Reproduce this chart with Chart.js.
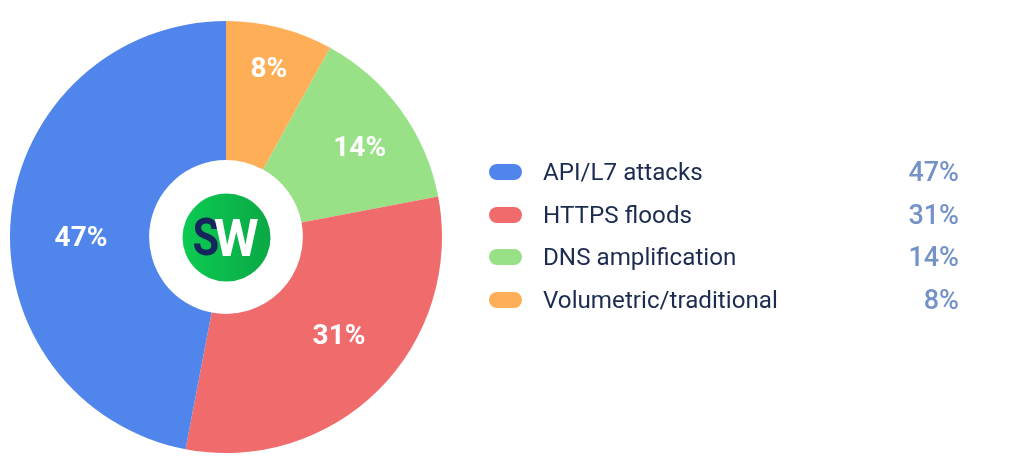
<!DOCTYPE html>
<html>
<head>
<meta charset="utf-8">
<script src="https://cdn.jsdelivr.net/npm/chart.js@4/dist/chart.umd.min.js"></script>
<style>
  html, body { margin: 0; padding: 0; background: #fff; overflow: hidden; }
  #wrap { position: relative; width: 1024px; height: 470px; font-family: Roboto, sans-serif; }
  #pie { position: absolute; left: 0; top: 0; }
  .row { position: absolute; left: 489px; width: 470px; height: 40px; line-height: 40px; }
  .swatch { position: absolute; left: 0; top: 12px; width: 33px; height: 16px; border-radius: 8px; }
  .name { position: absolute; left: 54px; top: 0; font-size: 24.2px; color: #1c2b50; white-space: nowrap; }
  .value { position: absolute; right: 0; top: 0; font-size: 27px; font-weight: 500; color: #7392c8; }
</style>
</head>
<body>
<div id="wrap">
  <canvas id="pie" width="1024" height="470"></canvas>
  <div id="legend"></div>
</div>
<script>
const categories = ['Volumetric/traditional', 'DNS amplification', 'HTTPS floods', 'API/L7 attacks'];
const shares = [8, 14, 31, 47];
const colors = ['#FFAE58', '#98E186', '#F06C6C', '#5085EC'];
// legend runs the other way round from the slices
const legendOrder = [3, 2, 1, 0];
const legendRows = [152, 195, 237, 280];
// where each label sits along its slice, in pixels from the centre
const labelRadius = [172, 160, 151, 145];
const labelTurn = [0, 0.047, -0.06, -0.105];

const sliceLabels = {
  id: 'sliceLabels',
  afterDatasetsDraw(chart) {
    const c = chart.ctx;
    c.save();
    c.font = 'bold 28px Roboto, sans-serif';
    c.fillStyle = '#fff';
    c.textAlign = 'center';
    c.textBaseline = 'middle';
    chart.getDatasetMeta(0).data.forEach((arc, i) => {
      const mid = (arc.startAngle + arc.endAngle) / 2 + labelTurn[i];
      c.fillText(shares[i] + '%', arc.x + Math.cos(mid) * labelRadius[i], arc.y + Math.sin(mid) * labelRadius[i]);
    });
    c.restore();
  }
};

const logo = {
  id: 'logo',
  afterDraw(chart) {
    const c = chart.ctx;
    const x = 226.5, y = 237.5;
    const grad = c.createLinearGradient(x - 44, y, x + 44, y);
    grad.addColorStop(0, '#0ccb52');
    grad.addColorStop(1, '#0aa845');
    c.save();
    c.fillStyle = grad;
    c.beginPath();
    c.arc(x, y, 44, 0, Math.PI * 2);
    c.fill();
    c.textBaseline = 'alphabetic';
    c.textAlign = 'left';
    c.font = 'bold 51px Roboto, sans-serif';
    // the S is narrower than the font draws it
    c.save();
    c.translate(192.5, 255);
    c.scale(0.85, 1);
    c.fillStyle = '#14265c';
    c.fillText('S', 0, 0);
    c.restore();
    c.fillStyle = '#fff';
    c.fillText('W', 214, 255.5);
    c.restore();
  }
};

new Chart(document.getElementById('pie'), {
  type: 'doughnut',
  data: {
    labels: categories,
    datasets: [{ data: shares, backgroundColor: colors, borderWidth: 0 }]
  },
  options: {
    responsive: false,
    animation: false,
    cutout: '35.6%',
    layout: { padding: { left: 10, top: 21, right: 582, bottom: 17 } },
    plugins: { legend: { display: false }, tooltip: { enabled: false } }
  },
  plugins: [sliceLabels, logo]
});

const legend = document.getElementById('legend');
legendOrder.forEach((idx, r) => {
  const row = document.createElement('div');
  row.className = 'row';
  row.style.top = legendRows[r] + 'px';
  row.innerHTML = '<span class="swatch" style="background:' + colors[idx] + '"></span>' +
    '<span class="name">' + categories[idx] + '</span>' +
    '<span class="value">' + shares[idx] + '%</span>';
  legend.appendChild(row);
});
</script>
</body>
</html>
